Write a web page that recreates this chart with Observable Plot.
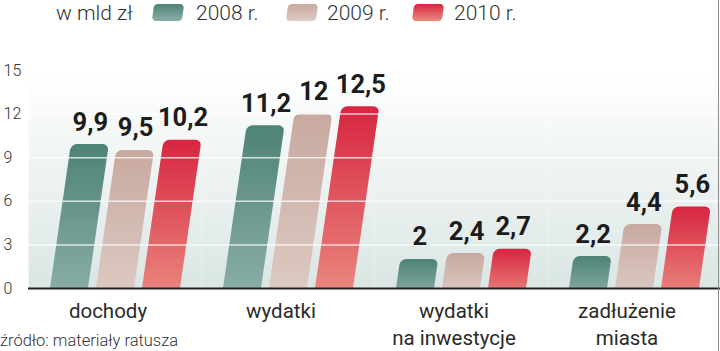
<!DOCTYPE html>
<html>
<head>
<meta charset="utf-8">
<script src="https://cdn.jsdelivr.net/npm/d3@7"></script>
<script src="https://cdn.jsdelivr.net/npm/@observablehq/plot@0.6"></script>
<style>
  body { margin: 0; background: #fff; }
  #wrap { position: relative; width: 720px; height: 351px; overflow: hidden; background: #fff; }
  #wrap svg { position: absolute; left: 0; top: 0; }
  .rb { position: absolute; left: 718px; top: 0; width: 1px; height: 351px; background: #8e8e8e; }
  .lg { position: absolute; top: 0; height: 26px; line-height: 26px; font-family: Roboto, sans-serif; font-weight: 300; font-size: 21px; color: #333; white-space: nowrap; }
  .sw { position: absolute; top: 4px; width: 30px; height: 17px; border-radius: 4px; transform: skewX(-8deg); }
  .src { position: absolute; left: 0; top: 331px; font-family: Roboto, sans-serif; font-weight: 300; font-size: 16.5px; line-height: 20px; color: #333; white-space: nowrap; }
</style>
</head>
<body>
<div id="wrap"></div>
<script>
// ---- data ----
const categories = ["dochody", "wydatki", "wydatki\nna inwestycje", "zadłużenie\nmiasta"];
const years = ["2008 r.", "2009 r.", "2010 r."];
const v2008 = [9.9, 11.2, 2, 2.2];
const v2009 = [9.5, 12, 2.4, 4.4];
const v2010 = [10.2, 12.5, 2.7, 5.6];
const yTicks = [0, 3, 6, 9, 12, 15];
const gridTicks = [3, 6, 9, 12];
const unitLabel = "w mld zł";
const sourceLabel = "źródło: materiały ratusza";

// gradient colors per year [top, bottom]
const yearColors = [["#4e8376", "#8cafa9"], ["#c8a99f", "#ddcbc4"], ["#d72541", "#ea8a7f"]];

const series = [v2008, v2009, v2010];
const data = categories.flatMap((c, i) => years.map((y, j) => ({category: c, year: y, value: series[j][i]})));

const K = 0.145; // slant of bars
const fmt = v => String(v).replace(".", ",");

const skewRender = (index, scales, values, dimensions, context, next) => {
  const g = next(index, scales, values, dimensions, context);
  const y0 = scales.y(0);
  const w = document.createElementNS("http://www.w3.org/2000/svg", "g");
  w.setAttribute("transform", `translate(${K * y0},0) skewX(${-Math.atan(K) * 180 / Math.PI})`);
  w.appendChild(g);
  return w;
};

const shiftTextRender = (index, scales, values, dimensions, context, next) => {
  const g = next(index, scales, values, dimensions, context);
  const y0 = scales.y(0);
  const texts = g.querySelectorAll("text");
  texts.forEach((t, j) => {
    const i = index[j];
    const dx = K * (y0 - values.y[i]);
    t.setAttribute("transform", `translate(${dx},0) ` + (t.getAttribute("transform") || ""));
  });
  return g;
};

const svg = Plot.plot({
  width: 720,
  height: 351,
  marginTop: 70,
  marginBottom: 63,
  marginLeft: 27,
  marginRight: 0,
  style: {background: "transparent", fontFamily: "Roboto, sans-serif", overflow: "visible"},
  fx: {domain: categories, padding: 0, label: null, axis: null},
  x: {domain: years, paddingInner: 0.174, paddingOuter: 0.467, axis: null},
  y: {domain: [0, 15], axis: null},
  color: {type: "ordinal", domain: years, range: ["url(#g0)", "url(#g1)", "url(#g2)"]},
  marks: [
    Plot.frame({fill: "url(#bg)", stroke: "none"}),
    Plot.barY(data, {
      fx: "category", x: "year", y: "value", fill: "year",
      rx: 6, ry: 6, insetBottom: -10, clip: "frame", render: skewRender
    }),
    Plot.ruleY(gridTicks, {stroke: "#fff", strokeWidth: 1.5, strokeOpacity: 0.75}),
    Plot.ruleY([0], {stroke: "#222", strokeWidth: 2}),
    Plot.text(data, {
      fx: "category", x: "year", y: "value", text: d => fmt(d.value),
      lineAnchor: "bottom", dy: -14, fontSize: 25.5, fontWeight: "bold",
      fontFamily: "Roboto, sans-serif", fill: "#1c1c1c", render: shiftTextRender
    }),
    Plot.axisY(yTicks, {
      tickSize: 0, tickPadding: 25, textAnchor: "start", fontSize: 16,
      fontWeight: 300, fill: "#333", label: null
    }),
    Plot.axisFx({
      anchor: "bottom", tickSize: 0, tickPadding: 10, fontSize: 20.5, fontWeight: 400,
      lineHeight: 1.33, fill: "#2a2a2a", dx: -7, label: null
    })
  ]
});

const ns = "http://www.w3.org/2000/svg";
const defs = document.createElementNS(ns, "defs");
function grad(id, stops) {
  const lg = document.createElementNS(ns, "linearGradient");
  lg.setAttribute("id", id);
  lg.setAttribute("x1", "0"); lg.setAttribute("y1", "0");
  lg.setAttribute("x2", "0"); lg.setAttribute("y2", "1");
  stops.forEach(([o, c]) => {
    const s = document.createElementNS(ns, "stop");
    s.setAttribute("offset", o);
    s.setAttribute("stop-color", c);
    lg.appendChild(s);
  });
  defs.appendChild(lg);
}
yearColors.forEach((c, i) => grad("g" + i, [[0, c[0]], [1, c[1]]]));
grad("bg", [[0, "#ffffff"], [0.1, "#fcfdfd"], [0.35, "#f2f6f5"], [0.7, "#e6eeed"], [1, "#d9e6e4"]]);
svg.insertBefore(defs, svg.firstChild);

const wrap = document.getElementById("wrap");
wrap.appendChild(svg);

const swLeft = [153, 287, 413];
const txtLeft = [196, 327, 454];
function addDiv(cls, left, text, style) {
  const d = document.createElement("div");
  d.className = cls;
  d.style.left = left + "px";
  if (text) d.textContent = text;
  if (style) Object.assign(d.style, style);
  wrap.appendChild(d);
}
addDiv("lg", 56, unitLabel);
years.forEach((y, i) => {
  addDiv("sw", swLeft[i], null, {background: `linear-gradient(to bottom, ${yearColors[i][0]}, ${yearColors[i][1]})`});
  addDiv("lg", txtLeft[i], y);
});
addDiv("src", 0, sourceLabel);
addDiv("rb", 718, null);
</script>
</body>
</html>
